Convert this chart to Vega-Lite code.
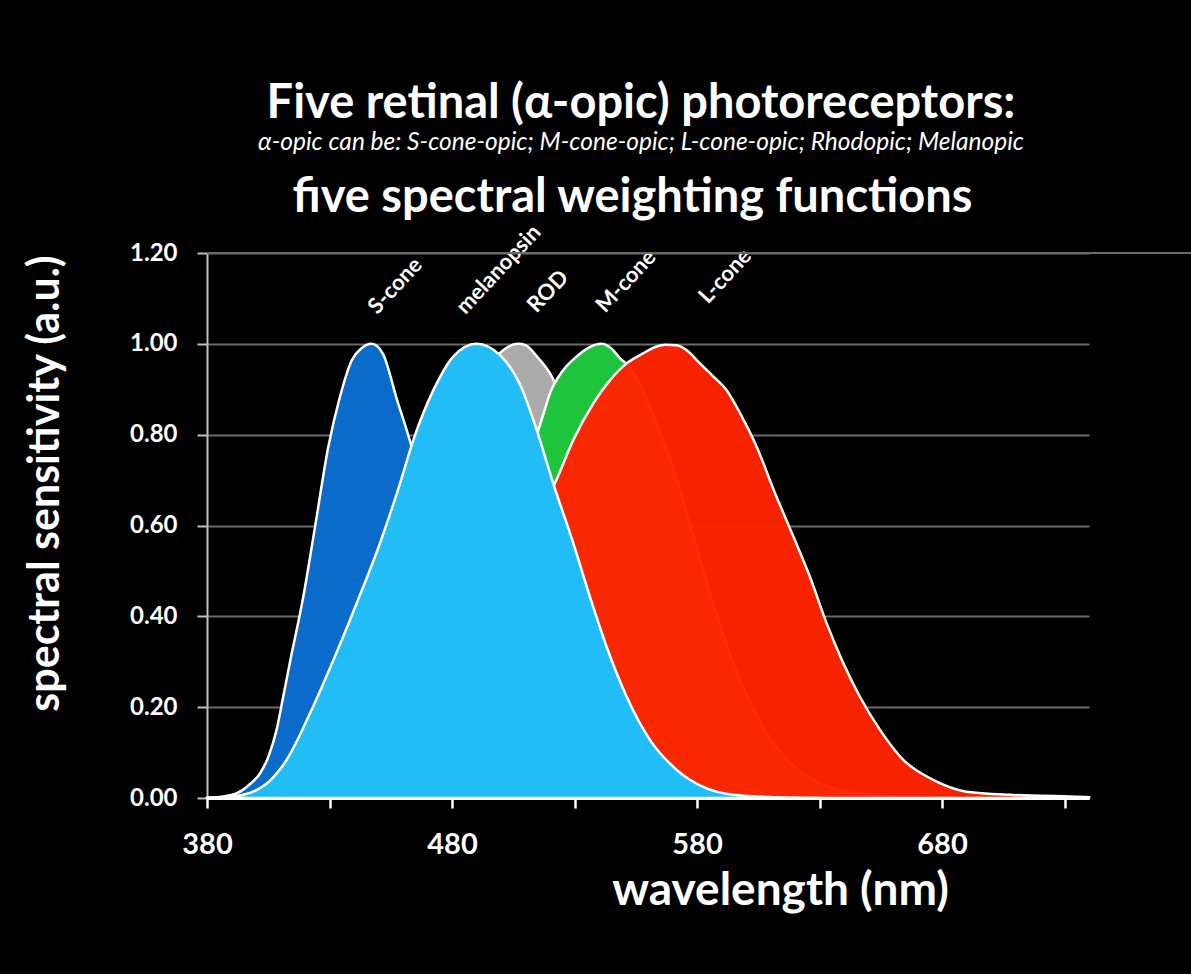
{
  "$schema": "https://vega.github.io/schema/vega-lite/v6.json",
  "width": 882,
  "height": 545,
  "autosize": "none",
  "padding": {"left": 207, "top": 253, "right": 102, "bottom": 176},
  "background": "black",
  "config": {"view": {"stroke": null}, "font": "Lato"},
  "title": {
    "text": "Five retinal (α-opic) photoreceptors:",
    "subtitle": "α-opic can be: S-cone-opic; M-cone-opic; L-cone-opic; Rhodopic; Melanopic",
    "color": "white", "font": "Lato", "fontSize": 47, "fontWeight": "bold",
    "subtitleColor": "white", "subtitleFont": "Lato", "subtitleFontSize": 24.5, "subtitleFontStyle": "italic", "subtitleFontWeight": "normal", "subtitlePadding": 3,
    "anchor": "middle", "frame": "group", "offset": 18, "dx": -7
  },
  "data": {"values": [
    {"receptor": "S-cone", "wl": 380, "s": 0},
    {"receptor": "S-cone", "wl": 386, "s": 0.003},
    {"receptor": "S-cone", "wl": 392, "s": 0.01},
    {"receptor": "S-cone", "wl": 397, "s": 0.028},
    {"receptor": "S-cone", "wl": 401.6, "s": 0.054},
    {"receptor": "S-cone", "wl": 405, "s": 0.09},
    {"receptor": "S-cone", "wl": 408.4, "s": 0.15},
    {"receptor": "S-cone", "wl": 411, "s": 0.22},
    {"receptor": "S-cone", "wl": 413.9, "s": 0.30},
    {"receptor": "S-cone", "wl": 419.3, "s": 0.443},
    {"receptor": "S-cone", "wl": 424.1, "s": 0.597},
    {"receptor": "S-cone", "wl": 429.5, "s": 0.773},
    {"receptor": "S-cone", "wl": 434.3, "s": 0.884},
    {"receptor": "S-cone", "wl": 439.1, "s": 0.964},
    {"receptor": "S-cone", "wl": 443, "s": 0.99},
    {"receptor": "S-cone", "wl": 447.2, "s": 1.0},
    {"receptor": "S-cone", "wl": 451.7, "s": 0.979},
    {"receptor": "S-cone", "wl": 457.6, "s": 0.876},
    {"receptor": "S-cone", "wl": 463.5, "s": 0.773},
    {"receptor": "S-cone", "wl": 470, "s": 0.62},
    {"receptor": "S-cone", "wl": 480, "s": 0.42},
    {"receptor": "S-cone", "wl": 490, "s": 0.22},
    {"receptor": "S-cone", "wl": 500, "s": 0.1},
    {"receptor": "S-cone", "wl": 510, "s": 0.04},
    {"receptor": "S-cone", "wl": 520, "s": 0.015},
    {"receptor": "S-cone", "wl": 540, "s": 0.003},
    {"receptor": "S-cone", "wl": 560, "s": 0},
    {"receptor": "ROD", "wl": 380, "s": 0.0006},
    {"receptor": "ROD", "wl": 390, "s": 0.0022},
    {"receptor": "ROD", "wl": 400, "s": 0.0093},
    {"receptor": "ROD", "wl": 410, "s": 0.0348},
    {"receptor": "ROD", "wl": 420, "s": 0.0966},
    {"receptor": "ROD", "wl": 430, "s": 0.1998},
    {"receptor": "ROD", "wl": 440, "s": 0.3281},
    {"receptor": "ROD", "wl": 450, "s": 0.455},
    {"receptor": "ROD", "wl": 460, "s": 0.567},
    {"receptor": "ROD", "wl": 470, "s": 0.676},
    {"receptor": "ROD", "wl": 480, "s": 0.793},
    {"receptor": "ROD", "wl": 490, "s": 0.904},
    {"receptor": "ROD", "wl": 500, "s": 0.982},
    {"receptor": "ROD", "wl": 507, "s": 1.0},
    {"receptor": "ROD", "wl": 510, "s": 0.997},
    {"receptor": "ROD", "wl": 515, "s": 0.97},
    {"receptor": "ROD", "wl": 520, "s": 0.935},
    {"receptor": "ROD", "wl": 530, "s": 0.811},
    {"receptor": "ROD", "wl": 540, "s": 0.65},
    {"receptor": "ROD", "wl": 550, "s": 0.481},
    {"receptor": "ROD", "wl": 560, "s": 0.329},
    {"receptor": "ROD", "wl": 570, "s": 0.208},
    {"receptor": "ROD", "wl": 580, "s": 0.121},
    {"receptor": "ROD", "wl": 590, "s": 0.066},
    {"receptor": "ROD", "wl": 600, "s": 0.033},
    {"receptor": "ROD", "wl": 620, "s": 0.0074},
    {"receptor": "ROD", "wl": 640, "s": 0.0015},
    {"receptor": "ROD", "wl": 660, "s": 0.0003},
    {"receptor": "ROD", "wl": 680, "s": 0},
    {"receptor": "M-cone", "wl": 380, "s": 0},
    {"receptor": "M-cone", "wl": 390, "s": 0.002},
    {"receptor": "M-cone", "wl": 400, "s": 0.007},
    {"receptor": "M-cone", "wl": 410, "s": 0.018},
    {"receptor": "M-cone", "wl": 420, "s": 0.04},
    {"receptor": "M-cone", "wl": 430, "s": 0.08},
    {"receptor": "M-cone", "wl": 440, "s": 0.14},
    {"receptor": "M-cone", "wl": 450, "s": 0.2},
    {"receptor": "M-cone", "wl": 460, "s": 0.27},
    {"receptor": "M-cone", "wl": 470, "s": 0.34},
    {"receptor": "M-cone", "wl": 480, "s": 0.42},
    {"receptor": "M-cone", "wl": 490, "s": 0.52},
    {"receptor": "M-cone", "wl": 500, "s": 0.62},
    {"receptor": "M-cone", "wl": 505, "s": 0.68},
    {"receptor": "M-cone", "wl": 510, "s": 0.74},
    {"receptor": "M-cone", "wl": 514.6, "s": 0.80},
    {"receptor": "M-cone", "wl": 517, "s": 0.84},
    {"receptor": "M-cone", "wl": 520, "s": 0.891},
    {"receptor": "M-cone", "wl": 525.4, "s": 0.942},
    {"receptor": "M-cone", "wl": 530.9, "s": 0.972},
    {"receptor": "M-cone", "wl": 536, "s": 0.992},
    {"receptor": "M-cone", "wl": 541, "s": 1.0},
    {"receptor": "M-cone", "wl": 545, "s": 0.99},
    {"receptor": "M-cone", "wl": 548.6, "s": 0.968},
    {"receptor": "M-cone", "wl": 551.3, "s": 0.955},
    {"receptor": "M-cone", "wl": 556, "s": 0.92},
    {"receptor": "M-cone", "wl": 560, "s": 0.87},
    {"receptor": "M-cone", "wl": 570, "s": 0.73},
    {"receptor": "M-cone", "wl": 580, "s": 0.55},
    {"receptor": "M-cone", "wl": 590, "s": 0.37},
    {"receptor": "M-cone", "wl": 600, "s": 0.23},
    {"receptor": "M-cone", "wl": 610, "s": 0.13},
    {"receptor": "M-cone", "wl": 620, "s": 0.068},
    {"receptor": "M-cone", "wl": 630, "s": 0.033},
    {"receptor": "M-cone", "wl": 640, "s": 0.015},
    {"receptor": "M-cone", "wl": 650, "s": 0.007},
    {"receptor": "M-cone", "wl": 660, "s": 0.003},
    {"receptor": "M-cone", "wl": 680, "s": 0.001},
    {"receptor": "M-cone", "wl": 700, "s": 0},
    {"receptor": "L-cone", "wl": 380, "s": 0},
    {"receptor": "L-cone", "wl": 390, "s": 0.002},
    {"receptor": "L-cone", "wl": 400, "s": 0.006},
    {"receptor": "L-cone", "wl": 410, "s": 0.012},
    {"receptor": "L-cone", "wl": 420, "s": 0.025},
    {"receptor": "L-cone", "wl": 430, "s": 0.045},
    {"receptor": "L-cone", "wl": 440, "s": 0.07},
    {"receptor": "L-cone", "wl": 450, "s": 0.1},
    {"receptor": "L-cone", "wl": 460, "s": 0.15},
    {"receptor": "L-cone", "wl": 470, "s": 0.2},
    {"receptor": "L-cone", "wl": 480, "s": 0.27},
    {"receptor": "L-cone", "wl": 490, "s": 0.34},
    {"receptor": "L-cone", "wl": 500, "s": 0.43},
    {"receptor": "L-cone", "wl": 510, "s": 0.56},
    {"receptor": "L-cone", "wl": 516, "s": 0.63},
    {"receptor": "L-cone", "wl": 522, "s": 0.693},
    {"receptor": "L-cone", "wl": 529.5, "s": 0.788},
    {"receptor": "L-cone", "wl": 537.7, "s": 0.869},
    {"receptor": "L-cone", "wl": 544.5, "s": 0.92},
    {"receptor": "L-cone", "wl": 551.3, "s": 0.957},
    {"receptor": "L-cone", "wl": 558, "s": 0.979},
    {"receptor": "L-cone", "wl": 563, "s": 0.993},
    {"receptor": "L-cone", "wl": 567, "s": 0.998},
    {"receptor": "L-cone", "wl": 571.7, "s": 0.997},
    {"receptor": "L-cone", "wl": 575.8, "s": 0.986},
    {"receptor": "L-cone", "wl": 581.2, "s": 0.957},
    {"receptor": "L-cone", "wl": 586.7, "s": 0.928},
    {"receptor": "L-cone", "wl": 592.1, "s": 0.898},
    {"receptor": "L-cone", "wl": 597.6, "s": 0.847},
    {"receptor": "L-cone", "wl": 604.4, "s": 0.773},
    {"receptor": "L-cone", "wl": 611.2, "s": 0.68},
    {"receptor": "L-cone", "wl": 619, "s": 0.58},
    {"receptor": "L-cone", "wl": 626.1, "s": 0.487},
    {"receptor": "L-cone", "wl": 632.9, "s": 0.385},
    {"receptor": "L-cone", "wl": 639.7, "s": 0.297},
    {"receptor": "L-cone", "wl": 646.5, "s": 0.223},
    {"receptor": "L-cone", "wl": 654.7, "s": 0.15},
    {"receptor": "L-cone", "wl": 664.2, "s": 0.084},
    {"receptor": "L-cone", "wl": 676.4, "s": 0.04},
    {"receptor": "L-cone", "wl": 690, "s": 0.014},
    {"receptor": "L-cone", "wl": 707.8, "s": 0.007},
    {"receptor": "L-cone", "wl": 720, "s": 0.005},
    {"receptor": "L-cone", "wl": 735, "s": 0.003},
    {"receptor": "L-cone", "wl": 740, "s": 0.002},
    {"receptor": "melanopsin", "wl": 380, "s": 0},
    {"receptor": "melanopsin", "wl": 388, "s": 0.002},
    {"receptor": "melanopsin", "wl": 394.8, "s": 0.007},
    {"receptor": "melanopsin", "wl": 400, "s": 0.017},
    {"receptor": "melanopsin", "wl": 404.4, "s": 0.032},
    {"receptor": "melanopsin", "wl": 412.5, "s": 0.084},
    {"receptor": "melanopsin", "wl": 422, "s": 0.186},
    {"receptor": "melanopsin", "wl": 431.6, "s": 0.304},
    {"receptor": "melanopsin", "wl": 441.1, "s": 0.429},
    {"receptor": "melanopsin", "wl": 450.6, "s": 0.561},
    {"receptor": "melanopsin", "wl": 458.8, "s": 0.693},
    {"receptor": "melanopsin", "wl": 464.2, "s": 0.788},
    {"receptor": "melanopsin", "wl": 472.4, "s": 0.898},
    {"receptor": "melanopsin", "wl": 480.5, "s": 0.972},
    {"receptor": "melanopsin", "wl": 490, "s": 1.0},
    {"receptor": "melanopsin", "wl": 499.6, "s": 0.975},
    {"receptor": "melanopsin", "wl": 507.8, "s": 0.91},
    {"receptor": "melanopsin", "wl": 514.6, "s": 0.81},
    {"receptor": "melanopsin", "wl": 521.3, "s": 0.693},
    {"receptor": "melanopsin", "wl": 529.5, "s": 0.561},
    {"receptor": "melanopsin", "wl": 536.3, "s": 0.443},
    {"receptor": "melanopsin", "wl": 543.1, "s": 0.333},
    {"receptor": "melanopsin", "wl": 551.3, "s": 0.223},
    {"receptor": "melanopsin", "wl": 560.8, "s": 0.128},
    {"receptor": "melanopsin", "wl": 571.7, "s": 0.062},
    {"receptor": "melanopsin", "wl": 584, "s": 0.021},
    {"receptor": "melanopsin", "wl": 594.8, "s": 0.007},
    {"receptor": "melanopsin", "wl": 610, "s": 0.002},
    {"receptor": "melanopsin", "wl": 630, "s": 0}
  ]},
  "encoding": {
    "y": {
      "field": "s", "type": "quantitative",
      "scale": {"domain": [0, 1.2], "nice": false, "zero": true},
      "axis": {
        "title": "spectral sensitivity (a.u.)",
        "values": [0, 0.2, 0.4, 0.6, 0.8, 1, 1.2],
        "format": ".2f",
        "grid": true, "gridColor": "#6a6a6a", "gridWidth": 2,
        "domainColor": "#c0c0c0", "domainWidth": 2,
        "tickColor": "#c0c0c0", "tickSize": 10, "tickWidth": 2,
        "labelColor": "white", "labelFont": "Lato", "labelFontSize": 24, "labelFontWeight": "bold", "labelPadding": 20,
        "titleColor": "white", "titleFont": "Lato", "titleFontSize": 43, "titleFontWeight": "bold",
        "titleX": -162, "titleY": 230, "titleAlign": "center", "titleBaseline": "middle", "titleAngle": -90
      }
    }
  },
  "layer": [
    {
      "transform": [{"filter": "datum.receptor == 'S-cone'"}],
      "mark": {"type": "area", "interpolate": "monotone", "fill": "#0a6bcb", "stroke": "white", "strokeWidth": 2.5},
      "encoding": {
        "x": {
          "field": "wl", "type": "quantitative",
          "scale": {"domain": [380, 740], "nice": false, "zero": false},
          "axis": {
            "orient": "bottom",
            "title": "wavelength (nm)",
            "values": [380, 430, 480, 530, 580, 630, 680, 730],
            "labelExpr": "datum.value % 100 == 80 ? datum.label : ''",
            "labelFlush": false,
            "grid": false,
            "domainColor": "white", "domainWidth": 3,
            "tickColor": "white", "tickSize": 10, "tickWidth": 2.5,
            "labelColor": "white", "labelFont": "Lato", "labelFontSize": 29, "labelFontWeight": "bold", "labelPadding": 22,
            "titleColor": "white", "titleFont": "Lato", "titleFontSize": 46, "titleFontWeight": "bold",
            "titleX": 573, "titleY": 106, "titleAlign": "center", "titleBaseline": "alphabetic"
          }
        }
      }
    },
    {
      "transform": [{"filter": "datum.receptor == 'ROD'"}],
      "mark": {"type": "area", "interpolate": "monotone", "fill": "#ababab", "stroke": "white", "strokeWidth": 2.5},
      "encoding": {
        "x": {
          "field": "wl", "type": "quantitative",
          "axis": {
            "orient": "top",
            "title": "five spectral weighting functions",
            "domain": false, "ticks": false, "labels": false, "grid": false,
            "titleColor": "white", "titleFont": "Lato", "titleFontSize": 47, "titleFontWeight": "bold",
            "titleX": 425, "titleY": -42, "titleAlign": "center", "titleBaseline": "alphabetic"
          }
        }
      }
    },
    {
      "transform": [{"filter": "datum.receptor == 'M-cone'"}],
      "mark": {"type": "area", "interpolate": "monotone", "fill": "#1dc43c", "stroke": "white", "strokeWidth": 2.5},
      "encoding": {"x": {"field": "wl", "type": "quantitative", "axis": null}}
    },
    {
      "transform": [{"filter": "datum.receptor == 'L-cone'"}],
      "mark": {"type": "area", "interpolate": "monotone", "fill": "#ff2400", "fillOpacity": 0.97, "stroke": "white", "strokeWidth": 2.5},
      "encoding": {"x": {"field": "wl", "type": "quantitative", "axis": null}}
    },
    {
      "transform": [{"filter": "datum.receptor == 'melanopsin'"}],
      "mark": {"type": "area", "interpolate": "monotone", "fill": "#22bcf7", "stroke": "white", "strokeWidth": 2.5},
      "encoding": {"x": {"field": "wl", "type": "quantitative", "axis": null}}
    },
    {
      "data": {"values": [
        {"label": "S-cone", "wl": 449.5, "s": 1.063},
        {"label": "melanopsin", "wl": 485.5, "s": 1.063},
        {"label": "ROD", "wl": 514.5, "s": 1.066},
        {"label": "M-cone", "wl": 542.5, "s": 1.066},
        {"label": "L-cone", "wl": 584.5, "s": 1.086}
      ]},
      "mark": {"type": "text", "angle": -47, "align": "left", "baseline": "alphabetic", "font": "Lato", "fontSize": 22, "fontWeight": "bold", "color": "white"},
      "encoding": {
        "x": {"field": "wl", "type": "quantitative", "axis": null},
        "text": {"field": "label"}
      }
    },
    {
      "data": {"values": [{"wl": 380, "wl2": 782, "s": 1.2}]},
      "mark": {"type": "rule", "color": "#6a6a6a", "strokeWidth": 2},
      "encoding": {
        "x": {"field": "wl", "type": "quantitative", "axis": null},
        "x2": {"field": "wl2"}
      }
    }
  ],
  "resolve": {"axis": {"x": "independent"}}
}
